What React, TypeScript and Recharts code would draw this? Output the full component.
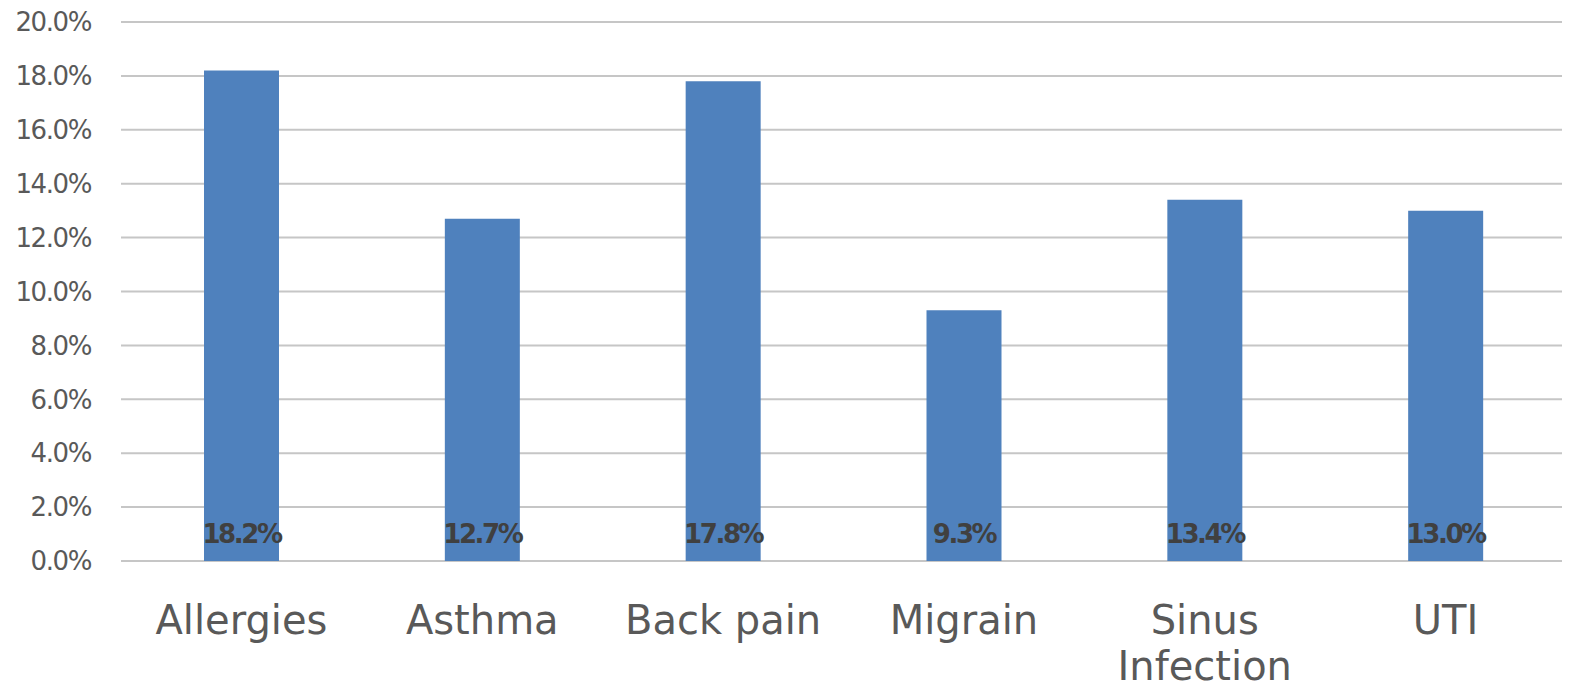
import { BarChart, Bar, XAxis, YAxis, CartesianGrid, LabelList } from 'recharts';

const categories = ['Allergies', 'Asthma', 'Back pain', 'Migrain', 'Sinus Infection', 'UTI'];
const shares = [0.182, 0.127, 0.178, 0.093, 0.134, 0.13];
const yTicks = [0, 0.02, 0.04, 0.06, 0.08, 0.1, 0.12, 0.14, 0.16, 0.18, 0.2];

const data = categories.map((name, i) => ({ name, value: shares[i] }));

const FONT = '"DejaVu Sans", Verdana, sans-serif';
const pct = (v: number) => `${(v * 100).toFixed(1)}%`;

// "Sinus Infection" goes on two lines, the rest stay on one
const wrapped = new Set(['Sinus Infection']);

function CategoryTick({ x, y, payload }: any) {
    const label: string = payload.value;
    const lines = wrapped.has(label) ? label.split(' ') : [label];
    return (
        <text x={x} y={y} textAnchor="middle" fill="#595959" fontSize={40} fontFamily={FONT}>
            {lines.map((line, i) => (
                <tspan key={i} x={x} y={y + 71 + i * 46}>{line}</tspan>
            ))}
        </text>
    );
}

function App() {
    return (
        <div style={{ margin: -8, background: '#fff' }}>
            <BarChart
                width={1570}
                height={690}
                data={data}
                margin={{ top: 22, right: 4, bottom: 0, left: 0 }}
                style={{ fontFamily: FONT }}
            >
                <CartesianGrid horizontal vertical={false} stroke="#c6c6c6" strokeWidth={2} />
                <XAxis
                    dataKey="name"
                    axisLine={false}
                    tickLine={false}
                    tickSize={0}
                    height={129}
                    interval={0}
                    tick={<CategoryTick />}
                />
                <YAxis
                    domain={[0, 0.2]}
                    ticks={yTicks}
                    tickFormatter={pct}
                    axisLine={false}
                    tickLine={false}
                    tickSize={0}
                    tickMargin={30}
                    width={121}
                    tick={{ fill: '#595959', fontSize: 26, fontFamily: FONT, letterSpacing: -1.4 }}
                />
                <Bar dataKey="value" fill="#4f81bd" barSize={75} isAnimationActive={false}>
                    <LabelList
                        dataKey="value"
                        position="insideBottom"
                        offset={18}
                        formatter={(v: any) => pct(Number(v))}
                        fill="#404040"
                        fontSize={26}
                        fontWeight="bold"
                        fontFamily={FONT}
                        letterSpacing={-2.4}
                    />
                </Bar>
            </BarChart>
        </div>
    );
}

export default App;
